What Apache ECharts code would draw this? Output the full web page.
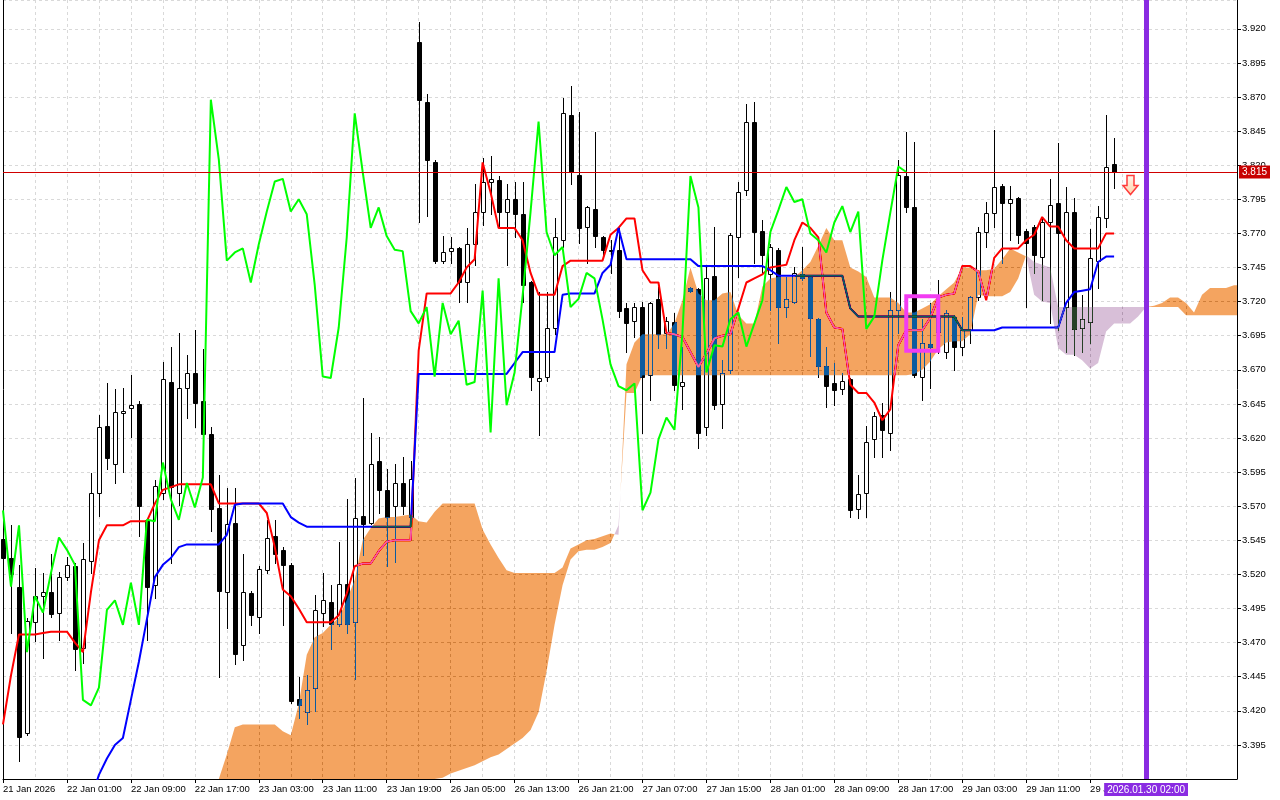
<!DOCTYPE html>
<html><head><meta charset="utf-8">
<script src="https://cdn.jsdelivr.net/npm/echarts@6/dist/echarts.min.js"></script>
<style>html,body{margin:0;padding:0;background:#fff}#c{width:1280px;height:800px}</style>
</head><body><div id="c"></div>
<script>
const timeLabels = ['21 Jan 2026','22 Jan 01:00','22 Jan 09:00','22 Jan 17:00','23 Jan 03:00','23 Jan 11:00','23 Jan 19:00','26 Jan 05:00','26 Jan 13:00','26 Jan 21:00','27 Jan 07:00','27 Jan 15:00','28 Jan 01:00','28 Jan 09:00','28 Jan 17:00','29 Jan 03:00','29 Jan 11:00','29 Jan 19:00'];

const opens = [3.546,3.532,3.511,3.404,3.485,3.504,3.507,3.492,3.518,3.526,
3.466,3.530,3.580,3.629,3.601,3.638,3.642,3.645,3.560,3.512,
3.580,3.661,3.580,3.657,3.668,3.647,3.623,3.569,3.507,3.558,
3.468,3.506,3.489,3.523,3.548,3.538,3.527,3.429,3.419,3.437,
3.492,3.500,3.484,3.513,3.485,3.563,3.558,3.603,3.582,3.570,
3.587,3.562,3.910,3.866,3.822,3.750,3.757,3.759,3.734,3.762,
3.786,3.808,3.809,3.786,3.795,3.784,3.734,3.662,3.665,3.701,
3.765,3.857,3.813,3.775,3.788,3.767,3.758,3.758,3.715,3.706,
3.716,3.666,3.722,3.697,3.705,3.658,3.730,3.729,3.628,3.739,
3.645,3.670,3.767,3.802,3.852,3.772,3.740,3.758,3.716,3.720,
3.740,3.738,3.707,3.673,3.660,3.656,3.663,3.568,3.580,3.619,
3.637,3.624,3.714,3.812,3.789,3.665,3.689,3.698,3.683,3.709,
3.687,3.699,3.723,3.771,3.785,3.805,3.792,3.796,3.772,3.775,
3.753,3.778,3.792,3.716,3.786,3.701,3.705,3.750,3.781,3.821];

const highs = [3.554,3.556,3.527,3.488,3.525,3.521,3.535,3.522,3.533,3.528,
3.543,3.594,3.637,3.660,3.656,3.657,3.666,3.647,3.561,3.589,
3.676,3.687,3.697,3.681,3.699,3.685,3.628,3.593,3.583,3.583,
3.535,3.508,3.526,3.560,3.560,3.540,3.528,3.445,3.446,3.505,
3.521,3.512,3.544,3.575,3.591,3.649,3.624,3.621,3.597,3.601,
3.606,3.603,3.925,3.872,3.824,3.768,3.767,3.760,3.774,3.806,
3.825,3.827,3.812,3.806,3.808,3.808,3.735,3.727,3.727,3.781,
3.869,3.878,3.859,3.790,3.844,3.768,3.765,3.774,3.719,3.719,
3.720,3.720,3.731,3.709,3.712,3.687,3.731,3.730,3.745,3.775,
3.677,3.770,3.808,3.865,3.866,3.780,3.762,3.759,3.738,3.745,
3.760,3.739,3.708,3.687,3.675,3.668,3.664,3.593,3.629,3.639,
3.646,3.727,3.824,3.844,3.837,3.707,3.719,3.736,3.714,3.710,
3.709,3.724,3.775,3.793,3.846,3.806,3.805,3.797,3.773,3.776,
3.782,3.810,3.836,3.804,3.796,3.725,3.773,3.790,3.857,3.840];

const lows = [3.529,3.477,3.383,3.402,3.471,3.459,3.489,3.472,3.516,3.450,
3.455,3.521,3.563,3.597,3.587,3.595,3.621,3.548,3.472,3.503,
3.575,3.528,3.571,3.635,3.628,3.619,3.552,3.445,3.481,3.454,
3.457,3.483,3.477,3.521,3.528,3.483,3.426,3.415,3.410,3.420,
3.482,3.465,3.482,3.477,3.443,3.534,3.557,3.565,3.526,3.529,
3.564,3.560,3.778,3.783,3.748,3.748,3.748,3.720,3.720,3.747,
3.776,3.784,3.775,3.747,3.767,3.720,3.655,3.622,3.662,3.696,
3.760,3.806,3.763,3.748,3.760,3.752,3.741,3.709,3.683,3.694,
3.624,3.648,3.686,3.686,3.655,3.641,3.727,3.613,3.622,3.641,
3.627,3.668,3.738,3.798,3.748,3.741,3.714,3.690,3.709,3.719,
3.736,3.680,3.665,3.643,3.644,3.652,3.562,3.561,3.562,3.606,
3.606,3.611,3.697,3.786,3.665,3.648,3.657,3.682,3.679,3.670,
3.681,3.690,3.721,3.760,3.775,3.748,3.765,3.763,3.716,3.741,
3.721,3.704,3.699,3.683,3.681,3.683,3.690,3.730,3.775,3.803];

const closes = [3.532,3.520,3.401,3.486,3.504,3.507,3.491,3.518,3.527,3.465,
3.531,3.580,3.628,3.605,3.639,3.640,3.644,3.570,3.511,3.585,
3.663,3.584,3.657,3.668,3.646,3.623,3.568,3.508,3.557,3.462,
3.507,3.490,3.524,3.547,3.535,3.527,3.427,3.424,3.435,3.494,
3.501,3.484,3.513,3.484,3.561,3.557,3.601,3.582,3.562,3.587,
3.570,3.590,3.868,3.824,3.750,3.756,3.759,3.734,3.762,3.786,
3.808,3.810,3.786,3.795,3.784,3.732,3.665,3.664,3.701,3.767,
3.858,3.815,3.774,3.789,3.768,3.758,3.757,3.713,3.704,3.716,
3.665,3.719,3.696,3.706,3.659,3.661,3.728,3.624,3.737,3.644,
3.668,3.769,3.800,3.852,3.771,3.754,3.760,3.716,3.722,3.741,
3.737,3.708,3.673,3.658,3.655,3.662,3.567,3.579,3.617,3.636,
3.626,3.714,3.813,3.789,3.666,3.690,3.687,3.708,3.712,3.687,
3.699,3.723,3.771,3.785,3.804,3.792,3.795,3.769,3.763,3.754,
3.778,3.791,3.770,3.786,3.700,3.707,3.752,3.782,3.819,3.815];

const tenkan = [3.410,3.446,3.476,3.476,3.476,3.477,3.478,3.478,3.478,3.470,
3.463,3.507,3.545,3.556,3.556,3.556,3.559,3.559,3.559,3.572,
3.582,3.584,3.586,3.586,3.586,3.586,3.586,3.572,3.572,3.572,
3.572,3.572,3.572,3.565,3.540,3.509,3.504,3.495,3.485,3.485,
3.485,3.485,3.490,3.506,3.526,3.528,3.528,3.537,3.544,3.545,
3.545,3.545,3.684,3.726,3.726,3.726,3.726,3.734,3.745,3.751,
3.822,3.800,3.774,3.774,3.774,3.765,3.741,3.725,3.725,3.725,
3.746,3.750,3.750,3.750,3.750,3.750,3.769,3.774,3.781,3.781,
3.743,3.734,3.734,3.697,3.696,3.694,3.683,3.672,3.682,3.693,
3.695,3.696,3.715,3.734,3.737,3.740,3.745,3.746,3.747,3.765,
3.778,3.774,3.767,3.712,3.701,3.700,3.659,3.653,3.653,3.646,
3.633,3.641,3.688,3.699,3.699,3.699,3.708,3.723,3.725,3.726,
3.746,3.746,3.742,3.721,3.752,3.759,3.759,3.759,3.765,3.769,
3.782,3.775,3.775,3.765,3.759,3.759,3.759,3.759,3.770,3.770];

const kijun = [null,null,null,null,null,null,null,null,null,null,
null,3.355,3.373,3.385,3.395,3.400,3.428,3.456,3.487,3.518,
3.527,3.532,3.540,3.542,3.542,3.542,3.542,3.542,3.549,3.571,
3.572,3.572,3.572,3.572,3.572,3.572,3.562,3.558,3.555,3.555,
3.555,3.555,3.555,3.555,3.555,3.555,3.555,3.555,3.555,3.555,
3.555,3.555,3.667,3.667,3.667,3.667,3.667,3.667,3.667,3.667,
3.667,3.667,3.667,3.667,3.675,3.683,3.683,3.683,3.683,3.683,
3.725,3.726,3.726,3.726,3.726,3.741,3.747,3.774,3.751,3.751,
3.751,3.751,3.751,3.751,3.751,3.751,3.751,3.746,3.746,3.746,
3.746,3.746,3.746,3.746,3.746,3.746,3.743,3.739,3.739,3.739,
3.739,3.739,3.739,3.739,3.739,3.739,3.715,3.709,3.709,3.709,
3.709,3.709,3.709,3.709,3.709,3.709,3.709,3.709,3.709,3.709,
3.699,3.699,3.699,3.699,3.699,3.701,3.701,3.701,3.701,3.701,
3.701,3.701,3.701,3.719,3.727,3.728,3.729,3.749,3.753,3.753];

const chikou = [3.567,3.511,3.556,3.463,3.504,3.492,3.521,3.547,3.538,3.527,
3.428,3.424,3.437,3.494,3.501,3.483,3.514,3.483,3.560,3.559,
3.602,3.575,3.560,3.587,3.569,3.591,3.868,3.824,3.750,3.756,
3.759,3.734,3.762,3.786,3.808,3.810,3.786,3.795,3.784,3.732,
3.665,3.664,3.701,3.767,3.858,3.815,3.774,3.789,3.768,3.758,
3.757,3.713,3.704,3.716,3.665,3.719,3.696,3.706,3.659,3.661,
3.728,3.624,3.737,3.644,3.668,3.724,3.786,3.852,3.771,3.754,
3.760,3.716,3.722,3.741,3.737,3.707,3.674,3.658,3.655,3.660,
3.567,3.580,3.619,3.635,3.626,3.697,3.812,3.789,3.668,3.688,
3.687,3.707,3.712,3.687,3.704,3.721,3.771,3.787,3.804,3.793,
3.795,3.770,3.765,3.756,3.778,3.790,3.771,3.786,3.700,3.709,
3.750,3.785,3.819,3.815];

// Senkou spans, first value belongs to bar spanStart
const spanStart = 27;
const spanA = [3.365,3.388,3.408,3.410,3.410,3.410,3.410,3.410,3.405,3.402,
3.425,3.461,3.474,3.477,3.483,3.488,3.501,3.516,3.545,3.554,
3.561,3.562,3.562,3.563,3.564,3.559,3.558,3.566,3.572,3.572,
3.572,3.572,3.572,3.553,3.542,3.532,3.523,3.521,3.521,3.521,
3.521,3.521,3.521,3.525,3.539,3.542,3.545,3.546,3.548,3.550,
3.549,3.674,3.690,3.696,3.696,3.696,3.696,3.704,3.721,3.745,
3.726,3.721,3.721,3.726,3.727,3.710,3.704,3.704,3.731,3.737,
3.738,3.738,3.738,3.743,3.749,3.761,3.774,3.765,3.765,3.745,
3.742,3.738,3.723,3.723,3.723,3.719,3.712,3.712,3.715,3.718,
3.724,3.729,3.734,3.745,3.745,3.743,3.743,3.744,3.751,3.759,
3.756,3.753,3.725,3.720,3.719,3.686,3.681,3.681,3.677,3.671,
3.675,3.698,3.704,3.704,3.704,3.709,3.716,3.717,3.719,3.723,
3.723,3.719,3.712,3.725,3.730,3.730,3.730,3.732];
const spanB = [3.350,3.350,3.350,3.350,3.350,3.350,3.350,3.350,3.350,3.350,
3.350,3.350,3.350,3.350,3.350,3.350,3.350,3.350,3.350,3.350,
3.350,3.350,3.350,3.350,3.350,3.350,3.350,3.369,3.371,3.374,
3.376,3.378,3.380,3.383,3.386,3.388,3.392,3.396,3.400,3.406,
3.419,3.449,3.483,3.512,3.531,3.537,3.538,3.538,3.540,3.543,
3.556,3.653,3.653,3.666,3.666,3.666,3.666,3.666,3.666,3.666,
3.666,3.666,3.666,3.666,3.666,3.666,3.666,3.666,3.666,3.666,
3.666,3.666,3.666,3.666,3.666,3.666,3.666,3.666,3.666,3.666,
3.666,3.666,3.666,3.666,3.666,3.666,3.666,3.667,3.670,3.676,
3.685,3.690,3.691,3.691,3.696,3.725,3.724,3.724,3.724,3.727,
3.737,3.754,3.749,3.747,3.745,3.716,3.716,3.716,3.716,3.716,
3.716,3.716,3.716,3.716,3.716,3.716,3.716,3.716,3.716,3.716,
3.716,3.710,3.710,3.710,3.710,3.710,3.710,3.710];

const bidPrice = 3.815;
const vlineBar = 143;
const vlineLabel = '2026.01.30 02:00';
const boxBars = [113, 117];
const boxPrices = [3.684, 3.724];
const arrowBar = 141;
const arrowPrice = 3.813;

const Y_MIN = 3.370, Y_MAX = 3.9411;
const X_MIN = 0, X_MAX = 154.375;
const FONT = 'Liberation Sans, Arial, sans-serif';
const FS = 9.5;
const GRID_LINE = {color: '#d9d9d9', width: 1, type: [3, 3]};

const chart = echarts.init(document.getElementById('c'), null, {renderer: 'canvas'});

function renderCandle(params, api) {
  const i = api.value(0), o = api.value(1), c = api.value(2), l = api.value(3), h = api.value(4);
  const pO = api.coord([i, o]), pC = api.coord([i, c]), pL = api.coord([i, l]), pH = api.coord([i, h]);
  const x = Math.round(pO[0]);
  const up = c >= o;
  const yTop = Math.round(Math.min(pO[1], pC[1]));
  const yBot = Math.round(Math.max(pO[1], pC[1]));
  const yH = Math.round(Math.min(pH[1], yTop));
  const yL = Math.round(Math.max(pL[1], yBot));
  return {type: 'group', children: [
    {type: 'line', shape: {x1: x + 0.5, y1: yH, x2: x + 0.5, y2: yL + 1}, style: {stroke: '#000', lineWidth: 1}},
    {type: 'rect', shape: {x: x - 1.5, y: yTop + 0.5, width: 4, height: Math.max(yBot - yTop, 1)},
     style: {fill: up ? '#ffffff' : '#000000', stroke: '#000', lineWidth: 1}}
  ]};
}

function renderCloud(params, api) {
  if (params.dataIndex !== 0) return;
  const cl = v => Math.min(Y_MAX, Math.max(Y_MIN, v));
  const regions = [];
  let cur = null;
  for (let k = 0; k < spanA.length; k++) {
    const a = spanA[k], b = spanB[k], d = a - b, x = spanStart + k;
    const s = d > 0 ? 1 : (d < 0 ? -1 : (cur ? cur.s : 1));
    if (!cur) {
      cur = {s, top: [[x, Math.max(a, b)]], bot: [[x, Math.min(a, b)]]};
    } else if (s === cur.s) {
      cur.top.push([x, Math.max(a, b)]); cur.bot.push([x, Math.min(a, b)]);
    } else {
      const a0 = spanA[k - 1], b0 = spanB[k - 1], d0 = a0 - b0;
      const t = d0 / (d0 - d);
      const xc = x - 1 + t, yc = a0 + t * (a - a0);
      cur.top.push([xc, yc]); cur.bot.push([xc, yc]); regions.push(cur);
      cur = {s, top: [[xc, yc], [x, Math.max(a, b)]], bot: [[xc, yc], [x, Math.min(a, b)]]};
    }
  }
  cur.top.push([X_MAX, cur.top[cur.top.length - 1][1]]);
  cur.bot.push([X_MAX, cur.bot[cur.bot.length - 1][1]]);
  regions.push(cur);
  return {type: 'group', children: regions.map(r => ({
    type: 'polygon', silent: true,
    shape: {points: r.top.concat(r.bot.slice().reverse()).map(p => api.coord([p[0], cl(p[1])]))},
    style: {fill: r.s > 0 ? '#0b5b9f' : '#274027'}
  }))};
}

function renderBox(params, api) {
  const p1 = api.coord([boxBars[0], boxPrices[1]]);
  const p2 = api.coord([boxBars[1], boxPrices[0]]);
  return {type: 'rect', shape: {x: p1[0], y: p1[1], width: p2[0] - p1[0], height: p2[1] - p1[1]},
    style: {fill: 'none', stroke: '#f23cf2', lineWidth: 4}};
}

function renderArrow(params, api) {
  const p = api.coord([arrowBar, arrowPrice]);
  const x = Math.round(p[0]) + 0.5, y = Math.round(p[1]) + 0.5;
  const pts = [[-3.5, 0], [3.5, 0], [3.5, 10], [7.5, 10], [0, 19], [-7.5, 10], [-3.5, 10]].map(q => [x + q[0], y + q[1]]);
  return {type: 'polygon', shape: {points: pts},
    style: {fill: new echarts.graphic.LinearGradient(0, 0, 0, 1, [{offset: 0, color: '#fff6ee'}, {offset: 1, color: '#ffd2a8'}]),
      stroke: '#ff3b3b', lineWidth: 1.5}};
}

const idx = a => a.map((v, i) => [i, v]);

const option = {
  backgroundColor: '#ffffff',
  animation: false,
  textStyle: {fontFamily: FONT},
  grid: {left: 2, right: 43, top: 0, bottom: 21},
  xAxis: [{
    type: 'value', min: X_MIN, max: X_MAX, interval: 8,
    axisLine: {show: true, onZero: false, lineStyle: {color: '#000', width: 1}},
    axisTick: {show: true, length: 4, lineStyle: {color: '#000'}, customValues: timeLabels.map((_, k) => k * 8)},
    axisLabel: {show: true, margin: 5, align: 'left', fontSize: FS, fontFamily: FONT, color: '#000',
      formatter: v => (v % 8 === 0 && v / 8 < timeLabels.length) ? timeLabels[v / 8] : ''},
    splitLine: {show: true, lineStyle: GRID_LINE},
    minorTick: {show: false, splitNumber: 2},
    minorSplitLine: {show: true, lineStyle: GRID_LINE}
  }],
  yAxis: [{
    type: 'value', position: 'right', min: Y_MIN, max: Y_MAX, interval: 0.025, scale: true,
    axisLine: {show: true, onZero: false, lineStyle: {color: '#000', width: 1}},
    axisTick: {show: true, length: 4, lineStyle: {color: '#000'}},
    axisLabel: {show: true, margin: 5, fontSize: FS, fontFamily: FONT, color: '#000',
      showMinLabel: false, showMaxLabel: false, formatter: v => v.toFixed(3)},
    splitLine: {show: true, lineStyle: GRID_LINE}
  }, {
    type: 'value', position: 'left', min: Y_MIN, max: Y_MAX, scale: true,
    axisLine: {show: true, onZero: false, lineStyle: {color: '#000', width: 1}},
    axisTick: {show: false}, axisLabel: {show: false}, splitLine: {show: false}
  }],
  series: [
    {name: 'Candles', type: 'custom', z: 1, silent: true, renderItem: renderCandle,
     encode: {x: 0, y: [1, 2, 3, 4]},
     data: opens.map((o, i) => [i, o, closes[i], lows[i], highs[i]])},
    {name: 'Tenkan-sen', type: 'line', z: 1, silent: true, showSymbol: false, symbol: 'none',
     lineStyle: {color: '#ff0000', width: 2}, data: idx(tenkan)},
    {name: 'Kijun-sen', type: 'line', z: 1, silent: true, showSymbol: false, symbol: 'none',
     lineStyle: {color: '#0000ff', width: 2}, data: idx(kijun)},
    {name: 'Kumo', type: 'custom', z: 2, silent: true, blendMode: 'difference', renderItem: renderCloud,
     encode: {x: 0, y: 1}, data: spanA.map((a, k) => [spanStart + k, a, spanB[k]])},
    {name: 'Chikou Span', type: 'line', z: 4, silent: true, showSymbol: false, symbol: 'none',
     lineStyle: {color: '#00ff00', width: 2}, data: idx(chikou),
     markLine: {silent: true, symbol: ['none', 'none'], animation: false, precision: 3,
       data: [
         {yAxis: bidPrice, lineStyle: {color: '#d00000', width: 1, type: 'solid'},
          label: {show: true, position: 'end', formatter: bidPrice.toFixed(3), color: '#fff', backgroundColor: '#c80000',
                  padding: [2, 3, 1, 3], fontSize: FS + 0.5, fontFamily: FONT, distance: 2}},
         {xAxis: vlineBar, lineStyle: {color: '#8a2be2', width: 5, type: 'solid'},
          label: {show: true, position: 'start', formatter: vlineLabel, color: '#fff', backgroundColor: '#8a2be2',
                  padding: [2, 3, 1, 3], fontSize: FS + 0.5, fontFamily: FONT, distance: 4}}
       ]}},
    {name: 'Box', type: 'custom', z: 5, silent: true, renderItem: renderBox, data: [[boxBars[0], boxPrices[0]]]},
    {name: 'Arrow', type: 'custom', z: 5, silent: true, renderItem: renderArrow, data: [[arrowBar, arrowPrice]]}
  ]
};
chart.setOption(option);
</script></body></html>
